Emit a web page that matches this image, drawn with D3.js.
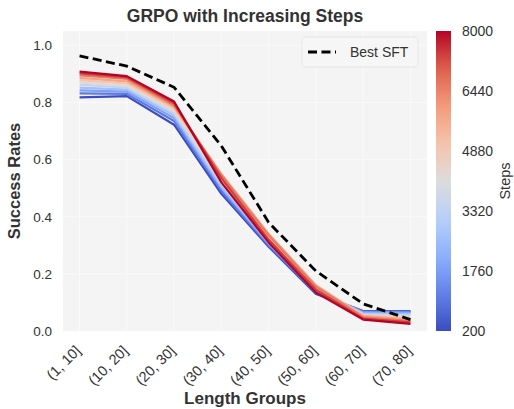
<!DOCTYPE html>
<html>
<head>
<meta charset="utf-8">
<script src="https://d3js.org/d3.v7.min.js"></script>
<style>
  body { margin: 0; background: #fff; }
  text { font-family: "Liberation Sans", Arial, sans-serif; }
</style>
</head>
<body>
<svg id="vis"></svg>
<script>
    // ---- data ----
    const groups = ['(1, 10]', '(10, 20]', '(20, 30]', '(30, 40]', '(40, 50]', '(50, 60]', '(60, 70]', '(70, 80]']
    const sftRates = [0.963, 0.927, 0.853, 0.648, 0.38, 0.21, 0.095, 0.04]
    const steps = [200, 1000, 1800, 2600, 3400, 4200, 5000, 5800, 6600, 7400, 8000]
    // one row per step, one value per length group
    const grpoRates = [
        [0.818, 0.822, 0.722, 0.480, 0.295, 0.130, 0.070, 0.070],
        [0.832, 0.830, 0.735, 0.490, 0.300, 0.135, 0.068, 0.068],
        [0.842, 0.838, 0.745, 0.500, 0.305, 0.140, 0.065, 0.064],
        [0.852, 0.845, 0.755, 0.505, 0.310, 0.145, 0.062, 0.060],
        [0.862, 0.852, 0.762, 0.515, 0.315, 0.148, 0.058, 0.055],
        [0.870, 0.858, 0.770, 0.525, 0.320, 0.150, 0.055, 0.050],
        [0.878, 0.866, 0.778, 0.540, 0.330, 0.155, 0.055, 0.045],
        [0.886, 0.874, 0.785, 0.550, 0.340, 0.160, 0.052, 0.040],
        [0.895, 0.882, 0.790, 0.545, 0.335, 0.155, 0.048, 0.035],
        [0.902, 0.888, 0.797, 0.535, 0.320, 0.145, 0.043, 0.030],
        [0.908, 0.892, 0.803, 0.520, 0.310, 0.135, 0.040, 0.025]
    ]
    const yTicks = [0, 0.2, 0.4, 0.6, 0.8, 1.0]
    const cbarTicks = [200, 1760, 3320, 4880, 6440, 8000]

    // coolwarm anchors
    const coolwarm = ['#3b4cc0', '#6282ea', '#8db0fe', '#b8d0f9', '#dddcdb', '#f5c4ac', '#f49a7b', '#de604d', '#b40426']

    const W = 514, H = 409
    const pLeft = 63, pRight = 427, pTop = 31, pBottom = 331

    let svg = d3.select('#vis')
        .attr('width', W)
        .attr('height', H)

    const x = d3.scaleLinear()
        .domain([-0.35, groups.length - 1 + 0.35])
        .range([pLeft, pRight])
    const y = d3.scaleLinear()
        .domain([0, 1.05])
        .range([pBottom, pTop])
    const color = d3.scaleSequential(d3.piecewise(d3.interpolateRgb, coolwarm))
        .domain([d3.min(steps), d3.max(steps)])

    // face
    svg.append('rect')
        .attr('x', pLeft).attr('y', pTop)
        .attr('width', pRight - pLeft).attr('height', pBottom - pTop)
        .attr('fill', '#f4f4f4')

    // grid
    svg.append('g').selectAll('line')
        .data(groups)
        .enter().append('line')
        .attr('x1', (d, i) => x(i)).attr('x2', (d, i) => x(i))
        .attr('y1', pTop).attr('y2', pBottom)
        .attr('stroke', '#fafafa').attr('stroke-width', 1)
    svg.append('g').selectAll('line')
        .data(yTicks)
        .enter().append('line')
        .attr('x1', pLeft).attr('x2', pRight)
        .attr('y1', d => y(d)).attr('y2', d => y(d))
        .attr('stroke', '#fafafa').attr('stroke-width', 1)

    // axes
    let yAxis = svg.append('g')
        .attr('transform', `translate(${pLeft},0)`)
        .call(d3.axisLeft(y).tickValues(yTicks).tickFormat(d3.format('.1f')).tickSize(0).tickPadding(11))
    yAxis.select('.domain').remove()
    yAxis.selectAll('text').attr('font-size', '13.5px').attr('fill', '#333').attr('font-family', 'Liberation Sans, Arial, sans-serif')

    let xAxis = svg.append('g')
        .attr('transform', `translate(0,${pBottom})`)
        .call(d3.axisBottom(x).tickValues(d3.range(groups.length)).tickFormat(i => groups[i]).tickSize(0))
    xAxis.select('.domain').remove()
    xAxis.selectAll('text')
        .attr('font-size', '14.5px').attr('fill', '#333').attr('font-family', 'Liberation Sans, Arial, sans-serif')
        .attr('text-anchor', 'end')
        .attr('dy', '0.35em')
        .attr('transform', 'translate(-2,17) rotate(-45)')
        .attr('y', 0).attr('x', 0)

    // GRPO lines
    const line = d3.line()
        .x((d, i) => x(i))
        .y(d => y(d))

    svg.append('g').selectAll('path')
        .data(grpoRates)
        .enter().append('path')
        .attr('d', d => line(d))
        .attr('fill', 'none')
        .attr('stroke', (d, i) => color(steps[i]))
        .attr('stroke-width', 2.2)
        .attr('stroke-linejoin', 'round')

    // Best SFT
    svg.append('path')
        .attr('d', line(sftRates))
        .attr('fill', 'none')
        .attr('stroke', 'black')
        .attr('stroke-width', 2.8)
        .attr('stroke-dasharray', '9,4.5')

    // legend
    let legend = svg.append('g')
    legend.append('rect')
        .attr('x', 302).attr('y', 37).attr('width', 116).attr('height', 30)
        .attr('rx', 3)
        .attr('fill', '#f6f6f6').attr('stroke', '#e6e6e6')
    legend.append('line')
        .attr('x1', 308).attr('x2', 336).attr('y1', 52).attr('y2', 52)
        .attr('stroke', 'black').attr('stroke-width', 2.8).attr('stroke-dasharray', '9,4.5')
    legend.append('text')
        .attr('x', 350).attr('y', 57)
        .attr('font-size', '14px').attr('fill', '#333')
        .text('Best SFT')

    // title and labels
    svg.append('text')
        .attr('x', 245).attr('y', 22)
        .attr('text-anchor', 'middle')
        .attr('font-size', '17.5px').attr('font-weight', 'bold').attr('fill', '#333')
        .text('GRPO with Increasing Steps')
    svg.append('text')
        .attr('transform', 'translate(20,181) rotate(-90)')
        .attr('text-anchor', 'middle')
        .attr('font-size', '16.5px').attr('font-weight', 'bold').attr('fill', '#333')
        .text('Success Rates')
    svg.append('text')
        .attr('x', 245).attr('y', 404)
        .attr('text-anchor', 'middle')
        .attr('font-size', '17px').attr('font-weight', 'bold').attr('fill', '#333')
        .text('Length Groups')

    // colorbar
    const cbLeft = 436, cbWidth = 15
    const cy = d3.scaleLinear().domain([d3.min(steps), d3.max(steps)]).range([pBottom, pTop])
    let grad = svg.append('defs').append('linearGradient')
        .attr('id', 'cbgrad')
        .attr('x1', 0).attr('x2', 0).attr('y1', 1).attr('y2', 0)
    grad.selectAll('stop')
        .data(d3.range(0, 1.0001, 0.05))
        .enter().append('stop')
        .attr('offset', d => d)
        .attr('stop-color', d => color(d3.min(steps) + d * (d3.max(steps) - d3.min(steps))))
    svg.append('rect')
        .attr('x', cbLeft).attr('y', pTop)
        .attr('width', cbWidth).attr('height', pBottom - pTop)
        .attr('fill', 'url(#cbgrad)')
    let cAxis = svg.append('g')
        .attr('transform', `translate(${cbLeft + cbWidth},0)`)
        .call(d3.axisRight(cy).tickValues(cbarTicks).tickSize(0).tickPadding(11).tickFormat(d3.format('d')))
    cAxis.select('.domain').remove()
    cAxis.selectAll('text').attr('font-size', '14px').attr('fill', '#333').attr('font-family', 'Liberation Sans, Arial, sans-serif')
    svg.append('text')
        .attr('transform', 'translate(510,181) rotate(-90)')
        .attr('text-anchor', 'middle')
        .attr('font-size', '14.5px').attr('fill', '#333')
        .text('Steps')
</script>
</body>
</html>
